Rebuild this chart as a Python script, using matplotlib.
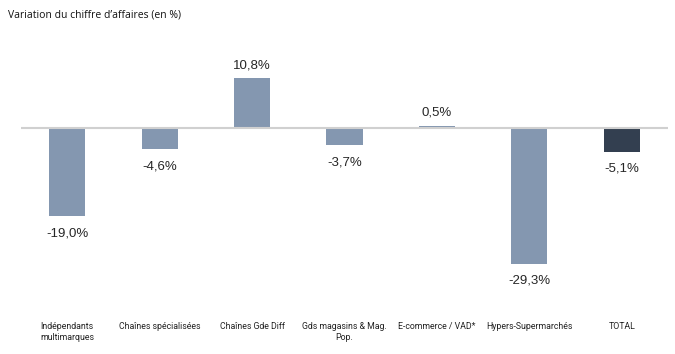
import matplotlib
matplotlib.use("Agg")
import matplotlib.pyplot as plt

categories = [
    "Indépendants\nmultimarques",
    "Chaînes spécialisées",
    "Chaînes Gde Diff",
    "Gds magasins & Mag.\nPop.",
    "E-commerce / VAD*",
    "Hypers-Supermarchés",
    "TOTAL",
]
values = [-19.0, -4.6, 10.8, -3.7, 0.5, -29.3, -5.1]
value_labels = ["-19,0%", "-4,6%", "10,8%", "-3,7%", "0,5%", "-29,3%", "-5,1%"]

bar_color = "#8497B0"
total_color = "#333F50"
colors = [bar_color] * 6 + [total_color]

fig = plt.figure(figsize=(6.75, 3.54), dpi=100)
ax = fig.add_axes([21 / 675, 1 - 290 / 354, 647 / 675, (290 - 35.4) / 354])

x = list(range(len(categories)))
ax.bar(x, values, width=0.39, color=colors, zorder=2)
ax.axhline(0, color="#D0D0D0", linewidth=1.5, zorder=3)

ax.set_xlim(-0.5, 6.5)
ax.set_ylim(-35, 20)
ax.axis("off")

for xi, v, lab in zip(x, values, value_labels):
    if v >= 0:
        ax.annotate(lab, (xi, v), xytext=(0, 5), textcoords="offset points",
                    ha="center", va="bottom", fontsize=9.5,
                    family="Liberation Sans", color="#262626")
    else:
        ax.annotate(lab, (xi, v), xytext=(0, -8), textcoords="offset points",
                    ha="center", va="top", fontsize=9.5,
                    family="Liberation Sans", color="#262626")

for xi, cat in zip(x, categories):
    xf = ax.transData.transform((xi, 0))[0]
    xfig = fig.transFigure.inverted().transform((xf, 0))[0]
    fig.text(xfig, 1 - 322 / 354, cat, ha="center", va="top", fontsize=6.3,
             family="Roboto", color="#222222", linespacing=1.35)

fig.text(8 / 675, 1 - 15 / 354, "Variation du chiffre d\u2019affaires (en %)",
         ha="left", va="center", fontsize=7.5, family="Open Sans", color="#111111")

fig.savefig("out.png", dpi=100)
